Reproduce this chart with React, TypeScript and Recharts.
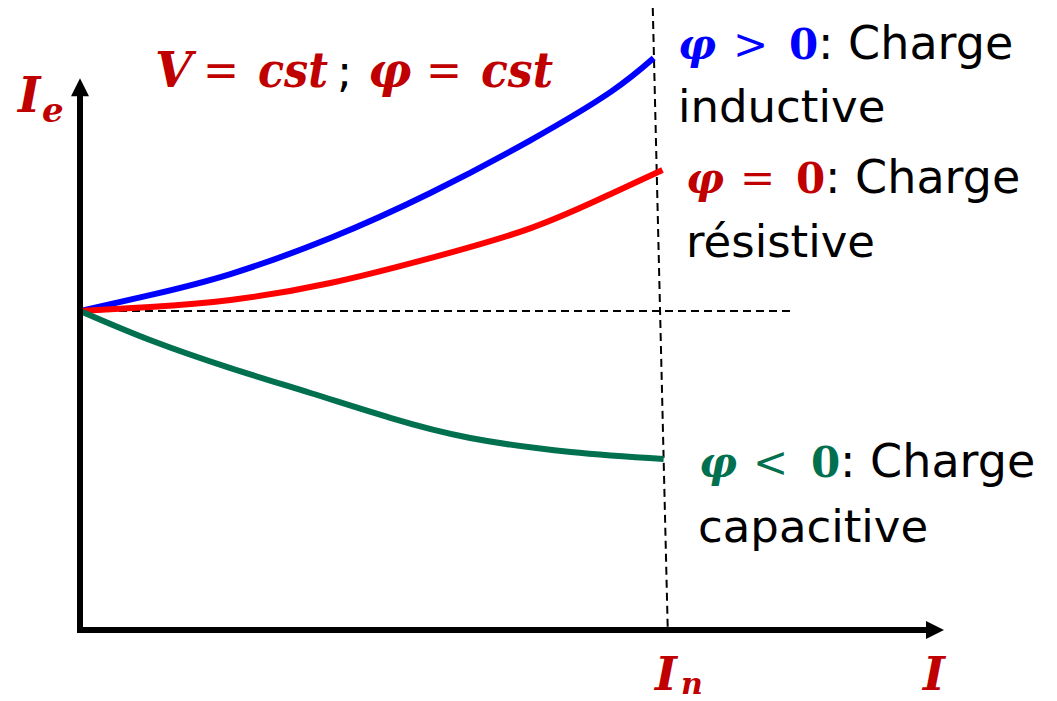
import React from "react";
import { LineChart, Line, XAxis, YAxis, ReferenceLine } from "recharts";

// Excitation current Ie versus load current I (V = cst, φ = cst), per-unit values.
// Current is expressed relative to the rated current In; Ie relative to its no-load value.
const loadI = [0, 0.119, 0.256, 0.426, 0.596, 0.767, 0.903];

const inductiveIe = [1.0, 1.05, 1.116, 1.229, 1.37, 1.536, 1.687];
const inductiveEnd = { i: 0.976, ie: 1.793 };

const resistiveIe = [1.0, 1.0125, 1.0345, 1.088, 1.166, 1.26, 1.367];
const resistiveEnd = { i: 0.991, ie: 1.442 };

const capacitiveI = [0, 0.119, 0.256, 0.392, 0.528, 0.664, 0.835, 0.993];
const capacitiveIe = [1.0, 0.909, 0.821, 0.743, 0.665, 0.602, 0.558, 0.536];

const ratedCurrent = 1.0; // In
const ratedLineTop = { i: 0.9745, ie: 1.95 };
const noLoadIe = 1.0;
const noLoadLineEnd = 1.21;

const xMax = 1.47;
const yMax = 1.95;

const toPoints = (xs: number[], ys: number[]) => xs.map((i, k) => ({ i, ie: ys[k] }));

const inductive = [...toPoints(loadI, inductiveIe), inductiveEnd];
const resistive = [...toPoints(loadI, resistiveIe), resistiveEnd];
const capacitive = toPoints(capacitiveI, capacitiveIe);

const RED_TXT = "#C00000";
const BLUE = "#0000FF";
const RED = "#FF0000";
const GREEN = "#00704F";

const MATH = "'DejaVu Serif', 'Liberation Serif', serif";
const SANS = "'DejaVu Sans', Verdana, sans-serif";

// Axis line with an arrow head at its end point
const ArrowAxis = (props: any) => {
  const { x1, y1, x2, y2 } = props;
  const len = 18;
  const half = 9;
  const dx = x2 - x1;
  const dy = y2 - y1;
  const d = Math.sqrt(dx * dx + dy * dy) || 1;
  const ux = dx / d;
  const uy = dy / d;
  const bx = x2 - ux * len;
  const by = y2 - uy * len;
  const px = -uy;
  const py = ux;
  return (
    <g>
      <line x1={x1} y1={y1} x2={bx + ux} y2={by + uy} stroke="#000" strokeWidth={6} />
      <polygon
        points={`${x2},${y2} ${bx + px * half},${by + py * half} ${bx - px * half},${by - py * half}`}
        fill="#000"
      />
    </g>
  );
};

export default function App() {
  return (
    <div style={{ position: "absolute", left: 0, top: 0, width: 1050, height: 700, background: "#fff" }}>
      <LineChart
        width={1050}
        height={700}
        margin={{ top: 8, right: 106, bottom: 70, left: 80 }}
      >
        <XAxis type="number" dataKey="i" domain={[0, xMax]} hide allowDataOverflow />
        <YAxis type="number" dataKey="ie" domain={[0, yMax]} hide allowDataOverflow />

        {/* no-load reference level */}
        <ReferenceLine
          segment={[{ x: 0, y: noLoadIe }, { x: noLoadLineEnd, y: noLoadIe }]}
          stroke="#000"
          strokeWidth={2}
          strokeDasharray="8 5"
          ifOverflow="visible"
        />
        {/* rated current marker */}
        <ReferenceLine
          segment={[{ x: ratedLineTop.i, y: ratedLineTop.ie }, { x: ratedCurrent, y: 0 }]}
          stroke="#000"
          strokeWidth={2}
          strokeDasharray="8 5"
          ifOverflow="visible"
        />

        <Line data={inductive} dataKey="ie" type="natural" stroke={BLUE} strokeWidth={6} dot={false} isAnimationActive={false} />
        <Line data={resistive} dataKey="ie" type="natural" stroke={RED} strokeWidth={6} dot={false} isAnimationActive={false} />
        <Line data={capacitive} dataKey="ie" type="natural" stroke={GREEN} strokeWidth={6} dot={false} isAnimationActive={false} />

        {/* axes with arrows */}
        <ReferenceLine
          segment={[{ x: -0.005, y: 0 }, { x: xMax, y: 0 }]}
          shape={ArrowAxis}
          ifOverflow="visible"
        />
        <ReferenceLine
          segment={[{ x: 0, y: -0.009 }, { x: 0, y: 1.73 }]}
          shape={ArrowAxis}
          ifOverflow="visible"
        />

        {/* axis titles */}
        <text x={18} y={112} fontFamily={MATH} fontWeight="bold" fontStyle="italic" fontSize={48} fill={RED_TXT}>
          I
        </text>
        <text x={42} y={122} fontFamily={MATH} fontWeight="bold" fontStyle="italic" fontSize={34} fill={RED_TXT}>
          e
        </text>
        <text x={655} y={690} fontFamily={MATH} fontWeight="bold" fontStyle="italic" fontSize={47} fill={RED_TXT}>
          I
        </text>
        <text x={681} y={694} fontFamily={MATH} fontWeight="bold" fontStyle="italic" fontSize={30} fill={RED_TXT}>
          n
        </text>
        <text x={923} y={690} fontFamily={MATH} fontWeight="bold" fontStyle="italic" fontSize={47} fill={RED_TXT}>
          I
        </text>

        {/* operating conditions */}
        <text y={87} fontFamily={MATH} fontSize={48} fill={RED_TXT}>
          <tspan x={155} fontWeight="bold" fontStyle="italic">V</tspan>
          <tspan x={203} textLength={36} lengthAdjust="spacingAndGlyphs">=</tspan>
          <tspan x={258} fontWeight="bold" fontStyle="italic" textLength={70} lengthAdjust="spacingAndGlyphs">cst</tspan>
          <tspan x={337} fill="#000" fontFamily={SANS} fontSize={45}>;</tspan>
          <tspan x={368} fontWeight="bold" fontStyle="italic">φ</tspan>
          <tspan x={426} textLength={36} lengthAdjust="spacingAndGlyphs">=</tspan>
          <tspan x={481} fontWeight="bold" fontStyle="italic" textLength={72} lengthAdjust="spacingAndGlyphs">cst</tspan>
        </text>

        {/* curve annotations */}
        <text y={59} fontSize={42} fontFamily={MATH} fill={BLUE}>
          <tspan x={678} fontWeight="bold" fontStyle="italic">φ</tspan>
          <tspan x={733}>&gt;</tspan>
          <tspan x={789} fontWeight="bold">0</tspan>
          <tspan x={818} fill="#000" fontFamily={SANS} fontSize={46}>: Charge</tspan>
        </text>
        <text x={678} y={122} fontFamily={SANS} fontSize={45} fill="#000">inductive</text>

        <text y={193} fontSize={42} fontFamily={MATH} fill={RED_TXT}>
          <tspan x={686} fontWeight="bold" fontStyle="italic">φ</tspan>
          <tspan x={740}>=</tspan>
          <tspan x={796} fontWeight="bold">0</tspan>
          <tspan x={825} fill="#000" fontFamily={SANS} fontSize={46}>: Charge</tspan>
        </text>
        <text x={686} y={257} fontFamily={SANS} fontSize={45} fill="#000">résistive</text>

        <text y={477} fontSize={42} fontFamily={MATH} fill={GREEN}>
          <tspan x={699} fontWeight="bold" fontStyle="italic">φ</tspan>
          <tspan x={753}>&lt;</tspan>
          <tspan x={811} fontWeight="bold">0</tspan>
          <tspan x={840} fill="#000" fontFamily={SANS} fontSize={46}>: Charge</tspan>
        </text>
        <text x={698} y={542} fontFamily={SANS} fontSize={45} fill="#000">capacitive</text>
      </LineChart>
    </div>
  );
}
